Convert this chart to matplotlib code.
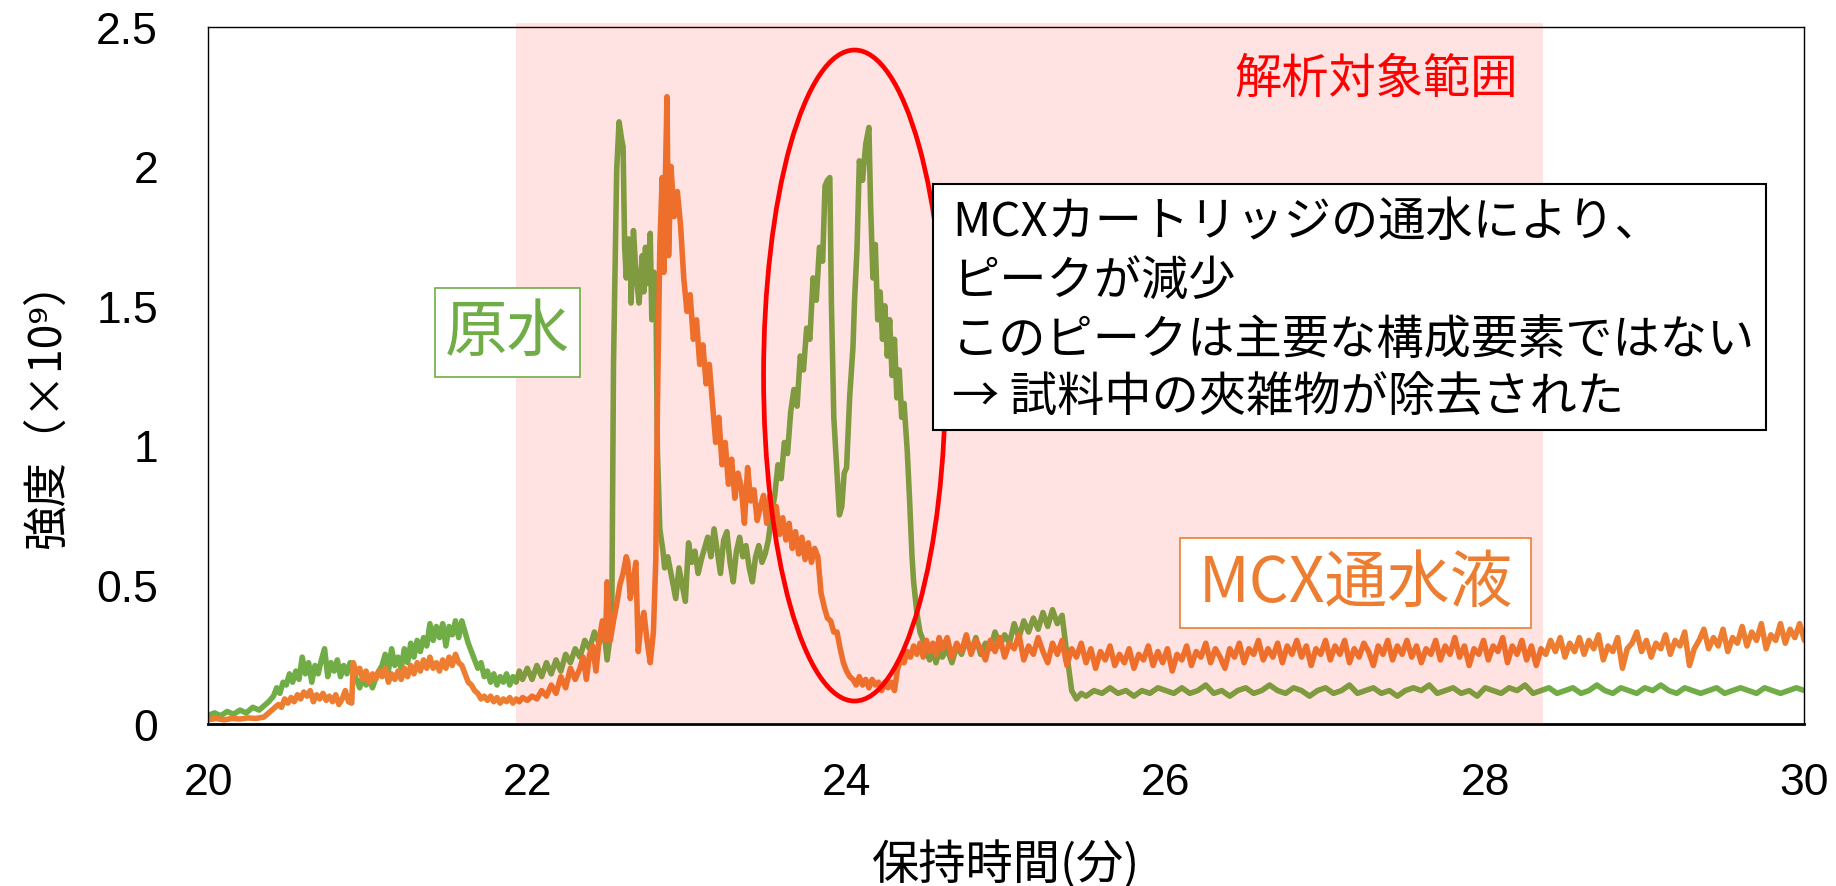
import numpy as np
import matplotlib
matplotlib.use("Agg")
import matplotlib.pyplot as plt
from matplotlib.patches import Rectangle, Ellipse

plt.rcParams['font.family'] = ['Noto Sans CJK JP', 'DejaVu Sans']

# ---------------- data (retention time [min], intensity [x10^9]) ----------------
green_head = [
    (20.00, 0.03), (20.04, 0.04), (20.08, 0.03), (20.12, 0.045), (20.16, 0.035), (20.20, 0.05),
    (20.24, 0.04), (20.28, 0.06), (20.32, 0.05), (20.35, 0.065), (20.38, 0.08), (20.41, 0.10),
    (20.43, 0.13), (20.45, 0.11), (20.47, 0.15), (20.49, 0.14), (20.51, 0.18), (20.53, 0.15),
    (20.55, 0.19), (20.57, 0.16), (20.59, 0.24), (20.61, 0.18), (20.63, 0.22), (20.65, 0.15),
    (20.67, 0.21), (20.69, 0.18), (20.71, 0.23), (20.73, 0.27), (20.75, 0.17), (20.77, 0.22),
    (20.79, 0.19), (20.81, 0.23), (20.83, 0.17), (20.85, 0.21), (20.87, 0.18), (20.89, 0.22),
    (20.91, 0.19), (20.93, 0.16), (20.95, 0.13), (20.97, 0.17), (20.99, 0.14), (21.01, 0.16),
    (21.03, 0.13), (21.06, 0.18), (21.09, 0.21), (21.11, 0.25), (21.13, 0.19), (21.15, 0.27),
    (21.17, 0.21), (21.19, 0.24), (21.21, 0.20), (21.23, 0.27), (21.25, 0.22), (21.27, 0.29),
    (21.29, 0.24), (21.31, 0.30), (21.33, 0.26), (21.35, 0.31), (21.37, 0.28), (21.39, 0.36),
    (21.41, 0.30), (21.43, 0.35), (21.45, 0.31), (21.47, 0.36), (21.49, 0.28), (21.51, 0.35),
    (21.53, 0.32), (21.55, 0.37), (21.57, 0.31), (21.59, 0.37), (21.61, 0.33), (21.63, 0.29),
    (21.65, 0.26), (21.67, 0.23), (21.69, 0.20), (21.71, 0.22), (21.73, 0.17), (21.75, 0.19),
    (21.77, 0.15), (21.79, 0.18), (21.81, 0.14), (21.83, 0.17), (21.85, 0.15), (21.87, 0.18),
    (21.89, 0.14), (21.91, 0.17), (21.93, 0.15), (21.95, 0.19), (21.97, 0.16), (22.00, 0.20),
    (22.03, 0.16), (22.06, 0.21), (22.09, 0.17), (22.12, 0.22), (22.15, 0.18), (22.18, 0.23),
    (22.21, 0.19), (22.24, 0.25), (22.27, 0.22), (22.30, 0.27), (22.33, 0.24), (22.36, 0.30),
    (22.39, 0.27), (22.42, 0.33), (22.45, 0.29), (22.48, 0.34), (22.50, 0.23), (22.52, 0.32),
    (22.53, 0.45), (22.54, 1.29), (22.56, 1.99), (22.575, 2.16), (22.59, 2.10), (22.60, 2.07),
    (22.61, 1.71), (22.62, 1.60), (22.635, 1.74), (22.645, 1.70), (22.65, 1.51), (22.665, 1.77),
    (22.68, 1.62), (22.70, 1.51), (22.72, 1.68), (22.73, 1.55), (22.74, 1.71), (22.755, 1.58),
    (22.77, 1.76), (22.78, 1.45), (22.795, 1.62), (22.805, 1.58), (22.815, 0.98), (22.83, 0.70),
    (22.85, 0.62), (22.86, 0.56), (22.88, 0.60), (22.90, 0.54), (22.92, 0.48), (22.93, 0.45),
    (22.95, 0.56), (22.97, 0.50), (22.99, 0.44), (23.01, 0.65), (23.03, 0.58), (23.05, 0.62),
    (23.07, 0.54), (23.09, 0.59), (23.11, 0.63), (23.13, 0.67), (23.15, 0.60), (23.17, 0.70),
    (23.19, 0.62), (23.21, 0.54), (23.23, 0.66), (23.25, 0.69), (23.27, 0.58), (23.29, 0.51),
    (23.31, 0.62), (23.33, 0.67), (23.35, 0.60), (23.37, 0.64), (23.39, 0.56), (23.41, 0.51),
    (23.43, 0.60), (23.45, 0.64), (23.47, 0.58), (23.49, 0.61), (23.51, 0.66), (23.53, 0.75),
    (23.55, 0.82), (23.57, 0.93), (23.59, 0.88), (23.61, 1.01), (23.63, 0.97), (23.65, 1.12),
    (23.67, 1.20), (23.69, 1.14), (23.71, 1.32), (23.73, 1.27), (23.75, 1.42), (23.77, 1.38),
    (23.79, 1.60), (23.81, 1.52), (23.83, 1.71), (23.85, 1.66), (23.865, 1.93), (23.88, 1.95),
    (23.895, 1.96), (23.905, 1.51), (23.92, 1.10), (23.94, 0.90), (23.955, 0.75), (23.97, 0.78),
    (23.985, 0.90), (24.00, 0.92), (24.02, 1.18), (24.04, 1.35), (24.05, 1.52), (24.065, 1.70),
    (24.08, 2.02), (24.10, 1.95), (24.12, 2.08), (24.14, 2.14), (24.15, 1.87), (24.165, 1.60),
    (24.18, 1.72), (24.195, 1.45), (24.21, 1.55), (24.225, 1.38), (24.24, 1.50), (24.255, 1.32),
    (24.27, 1.45), (24.285, 1.25), (24.30, 1.38), (24.315, 1.17), (24.33, 1.27), (24.345, 1.10),
    (24.36, 1.15), (24.38, 0.98), (24.395, 0.80), (24.41, 0.60), (24.42, 0.51), (24.44, 0.40),
    (24.46, 0.33), (24.48, 0.30), (24.50, 0.26), (24.52, 0.23), (24.54, 0.27), (24.56, 0.22),
    (24.58, 0.26), (24.60, 0.24), (24.63, 0.27), (24.66, 0.22), (24.69, 0.28), (24.72, 0.25),
    (24.75, 0.30), (24.78, 0.26), (24.81, 0.31), (24.84, 0.25), (24.87, 0.29), (24.90, 0.27),
    (24.93, 0.33), (24.96, 0.28), (24.99, 0.32), (25.02, 0.29), (25.05, 0.36), (25.08, 0.31),
    (25.11, 0.37), (25.14, 0.33), (25.17, 0.38), (25.20, 0.34), (25.23, 0.40), (25.26, 0.35),
    (25.29, 0.41), (25.32, 0.36), (25.35, 0.39), (25.38, 0.25), (25.41, 0.12), (25.44, 0.09),
    (25.47, 0.11),
]
green_tail_span = (25.50, 30.0)
green_tail_v = [
    0.10, 0.12, 0.11, 0.13, 0.11, 0.12, 0.10, 0.12, 0.11, 0.13, 0.12, 0.11, 0.13, 0.11, 0.12,
    0.14, 0.11, 0.12, 0.10, 0.12, 0.13, 0.11, 0.12, 0.14, 0.12, 0.11, 0.13, 0.12, 0.10, 0.12,
    0.13, 0.11, 0.12, 0.14, 0.11, 0.12, 0.13, 0.11, 0.12, 0.10, 0.12, 0.13, 0.12, 0.14, 0.11,
    0.12, 0.13, 0.11, 0.12, 0.10, 0.13, 0.12, 0.11, 0.13, 0.12, 0.14, 0.11, 0.12, 0.13, 0.11,
    0.12, 0.13, 0.11, 0.12, 0.14, 0.12, 0.11, 0.13, 0.12, 0.11, 0.13, 0.12, 0.14, 0.12, 0.11,
    0.13, 0.12, 0.11, 0.12, 0.13, 0.11, 0.12, 0.13, 0.12, 0.11, 0.13, 0.12, 0.11, 0.12, 0.13,
    0.12,
]

orange_head = [
    (20.00, 0.015), (20.05, 0.02), (20.10, 0.015), (20.15, 0.02), (20.20, 0.018), (20.25, 0.022),
    (20.30, 0.02), (20.35, 0.025), (20.38, 0.04), (20.41, 0.055), (20.44, 0.07), (20.46, 0.06),
    (20.48, 0.09), (20.50, 0.075), (20.52, 0.095), (20.54, 0.08), (20.56, 0.105), (20.58, 0.09),
    (20.60, 0.115), (20.62, 0.10), (20.64, 0.12), (20.66, 0.08), (20.68, 0.105), (20.70, 0.09),
    (20.72, 0.11), (20.74, 0.085), (20.76, 0.10), (20.78, 0.08), (20.80, 0.105), (20.82, 0.07),
    (20.84, 0.09), (20.86, 0.12), (20.88, 0.08), (20.90, 0.075), (20.91, 0.22), (20.93, 0.18),
    (20.95, 0.20), (20.97, 0.16), (20.99, 0.19), (21.01, 0.15), (21.03, 0.18), (21.05, 0.16),
    (21.07, 0.19), (21.09, 0.17), (21.11, 0.20), (21.13, 0.15), (21.15, 0.18), (21.17, 0.16),
    (21.19, 0.19), (21.21, 0.16), (21.23, 0.20), (21.25, 0.17), (21.27, 0.21), (21.29, 0.18),
    (21.31, 0.22), (21.33, 0.19), (21.35, 0.23), (21.37, 0.20), (21.39, 0.24), (21.41, 0.20),
    (21.43, 0.22), (21.45, 0.19), (21.47, 0.23), (21.49, 0.20), (21.51, 0.24), (21.53, 0.21),
    (21.55, 0.25), (21.57, 0.22), (21.59, 0.21), (21.61, 0.18), (21.63, 0.15), (21.65, 0.14),
    (21.67, 0.12), (21.69, 0.11), (21.71, 0.09), (21.73, 0.10), (21.75, 0.085), (21.77, 0.10),
    (21.79, 0.08), (21.81, 0.095), (21.83, 0.075), (21.85, 0.09), (21.87, 0.08), (21.89, 0.095),
    (21.91, 0.075), (21.93, 0.09), (21.95, 0.08), (21.97, 0.095), (22.00, 0.085), (22.03, 0.10),
    (22.06, 0.09), (22.09, 0.12), (22.12, 0.10), (22.15, 0.14), (22.18, 0.11), (22.21, 0.17),
    (22.24, 0.13), (22.27, 0.20), (22.30, 0.16), (22.33, 0.20), (22.35, 0.24), (22.37, 0.16),
    (22.39, 0.25), (22.41, 0.28), (22.43, 0.19), (22.45, 0.30), (22.47, 0.37), (22.49, 0.30),
    (22.50, 0.51), (22.52, 0.30), (22.54, 0.37), (22.56, 0.43), (22.58, 0.50), (22.60, 0.54),
    (22.62, 0.60), (22.63, 0.58), (22.645, 0.45), (22.66, 0.50), (22.68, 0.58), (22.695, 0.26),
    (22.71, 0.35), (22.73, 0.40), (22.75, 0.30), (22.77, 0.22), (22.79, 0.33), (22.805, 0.59),
    (22.815, 1.13), (22.83, 1.71), (22.845, 1.96), (22.855, 1.62), (22.865, 1.96), (22.875, 2.25),
    (22.885, 1.68), (22.90, 2.00), (22.92, 1.82), (22.94, 1.91), (22.96, 1.79), (22.98, 1.60),
    (23.00, 1.48), (23.02, 1.54), (23.04, 1.38), (23.06, 1.45), (23.08, 1.29), (23.10, 1.36),
    (23.12, 1.22), (23.14, 1.29), (23.16, 1.15), (23.18, 1.01), (23.20, 1.10), (23.22, 0.93),
    (23.24, 1.01), (23.26, 0.86), (23.28, 0.95), (23.30, 0.81), (23.32, 0.90), (23.34, 0.85),
    (23.36, 0.72), (23.38, 0.92), (23.40, 0.80), (23.42, 0.84), (23.44, 0.73), (23.46, 0.78),
    (23.48, 0.82), (23.50, 0.72), (23.52, 0.82), (23.54, 0.74), (23.56, 0.78), (23.58, 0.68),
    (23.60, 0.74), (23.62, 0.66), (23.64, 0.72), (23.66, 0.63), (23.68, 0.69), (23.70, 0.61),
    (23.72, 0.67), (23.74, 0.59), (23.76, 0.65), (23.78, 0.58), (23.80, 0.63), (23.82, 0.60),
    (23.84, 0.47), (23.86, 0.42), (23.88, 0.38), (23.90, 0.37), (23.92, 0.33), (23.94, 0.33),
    (23.96, 0.27), (23.98, 0.22), (24.00, 0.19), (24.02, 0.17), (24.04, 0.16), (24.06, 0.14),
    (24.08, 0.17), (24.10, 0.14), (24.12, 0.16), (24.14, 0.13), (24.16, 0.16), (24.18, 0.14),
    (24.20, 0.15), (24.22, 0.12), (24.24, 0.15), (24.26, 0.13), (24.28, 0.15), (24.30, 0.12),
    (24.32, 0.20), (24.34, 0.23), (24.36, 0.22), (24.38, 0.26), (24.40, 0.24), (24.42, 0.28),
    (24.44, 0.25), (24.46, 0.29), (24.48, 0.24), (24.50, 0.30), (24.52, 0.26), (24.54, 0.29),
    (24.56, 0.25), (24.58, 0.31),
]
orange_tail_span = (24.60, 30.0)
orange_tail_v = [
    0.27, 0.31, 0.24, 0.29, 0.26, 0.32, 0.25, 0.30, 0.27, 0.23, 0.30, 0.26, 0.31, 0.24, 0.29,
    0.27, 0.32, 0.23, 0.28, 0.25, 0.31, 0.26, 0.22, 0.29, 0.25, 0.30, 0.21, 0.27, 0.24, 0.29,
    0.22, 0.27, 0.20, 0.26, 0.23, 0.28, 0.21, 0.25, 0.22, 0.27, 0.20, 0.25, 0.23, 0.28, 0.21,
    0.26, 0.22, 0.27, 0.19, 0.25, 0.23, 0.28, 0.21, 0.26, 0.24, 0.29, 0.22, 0.27, 0.24, 0.20,
    0.27, 0.24, 0.29, 0.22, 0.27, 0.25, 0.30, 0.23, 0.27, 0.24, 0.29, 0.22, 0.28, 0.25, 0.30,
    0.24, 0.28, 0.21, 0.27, 0.25, 0.30, 0.23, 0.28, 0.25, 0.30, 0.22, 0.27, 0.24, 0.29, 0.26,
    0.21, 0.28, 0.25, 0.30, 0.23, 0.28, 0.25, 0.30, 0.24, 0.28, 0.22, 0.27, 0.25, 0.30, 0.23,
    0.28, 0.25, 0.31, 0.24, 0.28, 0.21, 0.27, 0.25, 0.30, 0.23, 0.28, 0.26, 0.31, 0.22, 0.28,
    0.25, 0.30, 0.23, 0.28, 0.21, 0.27, 0.25, 0.30, 0.26, 0.31, 0.24, 0.29, 0.26, 0.31, 0.25,
    0.30, 0.27, 0.32, 0.23, 0.28, 0.26, 0.31, 0.20, 0.27, 0.29, 0.33, 0.26, 0.30, 0.24, 0.29,
    0.27, 0.32, 0.25, 0.30, 0.28, 0.33, 0.21, 0.27, 0.30, 0.34, 0.27, 0.31, 0.28, 0.34, 0.26,
    0.31, 0.29, 0.35, 0.28, 0.33, 0.30, 0.36, 0.27, 0.32, 0.30, 0.36, 0.29, 0.34, 0.31, 0.36,
    0.30,
]

x_ticks = [20, 22, 24, 26, 28, 30]
y_ticks = [0, 0.5, 1, 1.5, 2, 2.5]
analysis_range = (21.93, 28.36)

GREEN = '#70AD47'
ORANGE = '#ED7D31'

def build(head, span, tail):
    t, v = zip(*head)
    tt = np.linspace(span[0], span[1], len(tail))
    return np.concatenate([t, tt]), np.concatenate([v, tail])

g_t, g_v = build(green_head, green_tail_span, green_tail_v)
o_t, o_v = build(orange_head, orange_tail_span, orange_tail_v)

# ---------------- figure ----------------
fig = plt.figure(figsize=(18.36, 8.87), dpi=100)
ax = fig.add_axes([0.1133, 0.1826, 0.8695, 0.7858])

ax.plot(g_t, g_v, color=GREEN, lw=4.0, zorder=2, solid_joinstyle='round', solid_capstyle='round')
ax.plot(o_t, o_v, color=ORANGE, lw=4.0, zorder=2.1, solid_joinstyle='round', solid_capstyle='round')

ax.set_xlim(20, 30)
ax.set_ylim(0, 2.5)
ax.set_xticks(x_ticks)
ax.set_yticks(y_ticks)
ax.set_xticklabels([f'{v:g}' for v in x_ticks], fontfamily='Liberation Sans', fontsize=32)
ax.set_yticklabels([f'{v:g}' for v in y_ticks], fontfamily='Liberation Sans', fontsize=32)
ax.tick_params(axis='both', length=0)
ax.tick_params(axis='y', pad=36)
ax.tick_params(axis='x', pad=27)
for s in ['top', 'right', 'left']:
    ax.spines[s].set_linewidth(1.0)
ax.spines['bottom'].set_linewidth(2.0)

# analysis range overlay (semi-transparent red on top of lines)
ax.add_patch(Rectangle((analysis_range[0], 0), analysis_range[1] - analysis_range[0], 2.515,
                       facecolor='red', alpha=0.11, lw=0, zorder=3, clip_on=False))

# ellipse highlight
ax.add_patch(Ellipse((24.05, 1.25), 1.14, 2.335, fill=False, ec='red', lw=3.4, zorder=5))

ax.text(27.32, 2.314, '解析対象範囲', color='red', fontsize=34, ha='center', va='center', zorder=7)

# 原水 label
ax.add_patch(Rectangle((21.42, 1.246), 0.91, 0.318, facecolor='white', edgecolor=GREEN, lw=1.2, zorder=6))
ax.text(21.875, 1.405, '原水', color=GREEN, fontsize=45, ha='center', va='center', zorder=7)

# MCX通水液 label
ax.add_patch(Rectangle((26.09, 0.343), 2.20, 0.325, facecolor='white', edgecolor=ORANGE, lw=1.2, zorder=6))
ax.text(27.19, 0.506, 'MCX通水液', color=ORANGE, fontsize=45, ha='center', va='center', zorder=7)

# annotation box
ax.add_patch(Rectangle((24.54, 1.054), 5.22, 0.882, facecolor='white', edgecolor='black', lw=1.5, zorder=6))
notes = ['MCXカートリッジの通水により、', 'ピークが減少', 'このピークは主要な構成要素ではない', '→ 試料中の夾雑物が除去された']
note_y = [1.80, 1.589, 1.379, 1.171]
for s, y in zip(notes, note_y):
    ax.text(24.66, y, s, color='black', fontsize=34, ha='left', va='center', zorder=7)

# axis labels
fig.text(0.548, 0.024, '保持時間(分)', fontsize=34, ha='center', va='center')
fig.text(0.0256, 0.5445, '強度（×10⁹）', fontsize=32, ha='center', va='center', rotation=90)

fig.savefig('out.png', dpi=100)
